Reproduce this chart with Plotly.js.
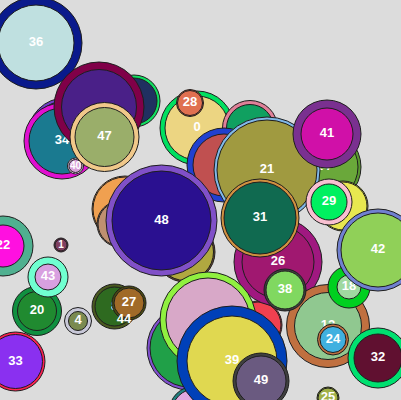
<!DOCTYPE html>
<html>
<head>
<meta charset="utf-8">
<script src="https://cdn.plot.ly/plotly-3.0.1.min.js"></script>
<style>
  html, body { margin: 0; padding: 0; background: #dcdcdc; }
  #chart { width: 401px; height: 400px; }
</style>
</head>
<body>
<div id="chart"></div>
<script>
// bubbles in draw order (later ones sit on top); '' = label hidden in the picture
const labels = ['36', '', '', '34', '40', '', '47', '0', '28', '',
    '', '14', '21', '41', '', '29', '', '', '', '48',
    '', '26', '31', '', '', '', '39', '49', '12', '18',
    '42', '38', '24', '32', '25', '22', '1', '20', '43', '4',
    '8', '27', '44', '33']
const xs = [36, 134, 65, 62, 75.5, 99, 104.5, 197, 190, 250,
    224, 323, 267, 327, 343, 329, 125, 120, 185, 161.5,
    258, 278, 260, 189, 208, 195, 232, 261, 328, 349,
    378, 285, 333, 378, 328, 3, 61, 37, 48, 78,
    114.5, 129, 124, 15.5]
const ys = [43, 101, 135, 141, 166, 107, 137, 128, 103, 128,
    165, 167, 170, 134, 206, 202, 209, 224, 252, 220.5,
    325, 262, 218, 348, 320, 412, 361, 381, 326, 287,
    250, 290, 339.5, 358, 398, 246, 245, 311, 277, 321,
    306.5, 303, 320, 361.5]
const outerR = [46, 26, 37, 38, 8, 45, 34.5, 37, 13.5, 27.5,
    37, 38, 53, 34, 25, 23, 33, 23, 30, 55.5,
    24, 44, 39, 42, 48, 26, 55, 28, 41.5, 21,
    41, 21, 15.5, 30, 11, 30, 7, 24.5, 20, 13.5,
    22.5, 17, 1, 29.5]
const innerR = [38, 23, 34, 33, 6.5, 37.5, 29.5, 32, 12.5, 23.5,
    31, 35, 50, 26, 24, 18, 32, 22, 28.5, 49.5,
    23, 36, 36, 39, 42, 23, 45, 25, 33.5, 12,
    37, 19, 13, 24, 10, 21, 6, 19.5, 13, 9.5,
    19.5, 15, 0.5, 27]
const ringColors = ['#0a1a8c', '#10e060', '#7040c8', '#e010d0', '#f0d0f0',
    '#800048', '#f0c88a', '#00e060', '#d06848', '#e08098',
    '#2040d0', '#5a9a30', '#80b8e8', '#7a3090', '#e8e850',
    '#f8c0d0', '#f0a050', '#c09070', '#6a4a30', '#8050c8',
    '#f04050', '#a01880', '#d09040', '#8050d0', '#90f040',
    '#208080', '#0040b8', '#404040', '#c07040', '#00d020',
    '#7080d0', '#404040', '#c07040', '#00e070', '#a0b040',
    '#50b090', '#804060', '#109040', '#70ffd0', '#c8c8d8',
    '#4a5a20', '#4a4a10', '#2e6a20', '#ff2050']
const fillColors = ['#bfe0e0', '#203060', '#5a3aa0', '#1a7a90', '#d8a0d8',
    '#4a2088', '#9aae6a', '#ecd582', '#e07050', '#10a060',
    '#c05050', '#6aa83a', '#a09a40', '#d010a8', '#e8e850',
    '#00f060', '#f0a050', '#c09070', '#b0a840', '#2a1090',
    '#f04050', '#a01870', '#106a50', '#20a048', '#d8a8c8',
    '#e0a8e0', '#e0d850', '#6a5a80', '#90c890', '#a0d8a0',
    '#90d058', '#80d860', '#40b0e0', '#601030', '#a0b048',
    '#ff10e0', '#804060', '#208a30', '#d8a0e0', '#7a8a50',
    '#2e6a20', '#a06a28', '#2e6a20', '#8a30f0']

const data = labels.map((lab, i) => ({
    x: [xs[i], xs[i]],
    y: [ys[i], ys[i]],
    type: 'scatter',
    mode: 'markers+text',
    text: ['', lab],
    textposition: 'middle center',
    textfont: {
        family: 'Liberation Sans, Arial, sans-serif',
        // only the two tiny bubbles get a smaller label
        size: (outerR[i] < 10 && outerR[i] > 2) ? 10 : 13,
        color: '#ffffff',
        weight: 'bold'
    },
    hoverinfo: 'skip',
    marker: {
        size: [2 * outerR[i], 2 * innerR[i]],
        sizemode: 'diameter',
        color: [ringColors[i], fillColors[i]],
        opacity: 1,
        line: { color: '#1e1e1e', width: 1 }
    }
}))

const layout = {
    width: 401,
    height: 400,
    margin: { l: 0, r: 0, t: 0, b: 0 },
    paper_bgcolor: '#dcdcdc',
    plot_bgcolor: '#dcdcdc',
    showlegend: false,
    xaxis: { range: [0, 401], visible: false, fixedrange: true },
    yaxis: { range: [400, 0], visible: false, fixedrange: true }
}

Plotly.newPlot('chart', data, layout, { staticPlot: true, displayModeBar: false })
</script>
</body>
</html>
